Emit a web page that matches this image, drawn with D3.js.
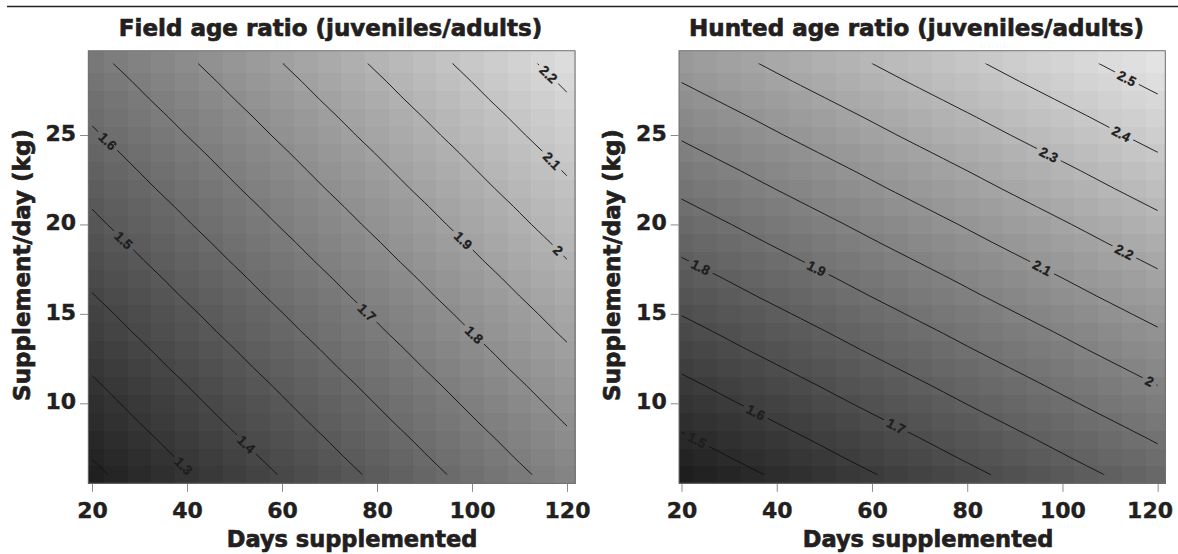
<!DOCTYPE html>
<html><head><meta charset="utf-8">
<script src="https://cdn.jsdelivr.net/npm/d3@7"></script>
<style>
html,body{margin:0;padding:0;background:#fff;}
svg{display:block;}
</style></head>
<body><svg id="chart" width="1178" height="554"></svg>
<script>
// ---------- data ----------
const days = [20,25,30,35,40,45,50,55,60,65,70,75,80,85,90,95,100,105,110,115,120];
const kg = [6,7,8,9,10,11,12,13,14,15,16,17,18,19,20,21,22,23,24,25,26,27,28,29];

// rows: kg = 6 ... 29 ; columns: days = 20 ... 120
const fieldRatio = [
[1.181,1.209,1.237,1.265,1.293,1.321,1.349,1.377,1.405,1.433,1.461,1.489,1.517,1.545,1.573,1.601,1.629,1.657,1.685,1.713,1.741],
[1.203,1.231,1.259,1.287,1.315,1.343,1.371,1.399,1.427,1.455,1.483,1.511,1.539,1.567,1.595,1.623,1.651,1.679,1.707,1.735,1.763],
[1.224,1.252,1.280,1.308,1.336,1.364,1.392,1.420,1.448,1.476,1.504,1.532,1.560,1.588,1.616,1.644,1.672,1.700,1.728,1.756,1.784],
[1.246,1.274,1.302,1.330,1.358,1.386,1.414,1.442,1.470,1.498,1.526,1.554,1.582,1.610,1.638,1.666,1.694,1.722,1.750,1.778,1.806],
[1.267,1.295,1.323,1.351,1.379,1.407,1.435,1.463,1.491,1.519,1.547,1.575,1.603,1.631,1.659,1.687,1.715,1.743,1.771,1.799,1.827],
[1.288,1.316,1.344,1.372,1.400,1.428,1.456,1.484,1.512,1.540,1.568,1.596,1.624,1.652,1.680,1.708,1.736,1.764,1.792,1.820,1.848],
[1.310,1.338,1.366,1.394,1.422,1.450,1.478,1.506,1.534,1.562,1.590,1.618,1.646,1.674,1.702,1.730,1.758,1.786,1.814,1.842,1.870],
[1.331,1.359,1.387,1.415,1.443,1.471,1.499,1.527,1.555,1.583,1.611,1.639,1.667,1.695,1.723,1.751,1.779,1.807,1.835,1.863,1.891],
[1.353,1.381,1.409,1.437,1.465,1.493,1.521,1.549,1.577,1.605,1.633,1.661,1.689,1.717,1.745,1.773,1.801,1.829,1.857,1.885,1.913],
[1.374,1.402,1.430,1.458,1.486,1.514,1.542,1.570,1.598,1.626,1.654,1.682,1.710,1.738,1.766,1.794,1.822,1.850,1.878,1.906,1.934],
[1.396,1.424,1.452,1.480,1.508,1.536,1.564,1.592,1.620,1.648,1.676,1.704,1.732,1.760,1.788,1.816,1.844,1.872,1.900,1.928,1.956],
[1.417,1.445,1.473,1.501,1.529,1.557,1.585,1.613,1.641,1.669,1.697,1.725,1.753,1.781,1.809,1.837,1.865,1.893,1.921,1.949,1.977],
[1.439,1.467,1.495,1.523,1.551,1.579,1.607,1.635,1.663,1.691,1.719,1.747,1.775,1.803,1.831,1.859,1.887,1.915,1.943,1.971,1.999],
[1.460,1.488,1.516,1.544,1.572,1.600,1.628,1.656,1.684,1.712,1.740,1.768,1.796,1.824,1.852,1.880,1.908,1.936,1.964,1.992,2.020],
[1.482,1.510,1.538,1.566,1.594,1.622,1.650,1.678,1.706,1.734,1.762,1.790,1.818,1.846,1.874,1.902,1.930,1.958,1.986,2.014,2.042],
[1.503,1.531,1.559,1.587,1.615,1.643,1.671,1.699,1.727,1.755,1.783,1.811,1.839,1.867,1.895,1.923,1.951,1.979,2.007,2.035,2.063],
[1.525,1.553,1.581,1.609,1.637,1.665,1.693,1.721,1.749,1.777,1.805,1.833,1.861,1.889,1.917,1.945,1.973,2.001,2.029,2.057,2.085],
[1.546,1.574,1.602,1.630,1.658,1.686,1.714,1.742,1.770,1.798,1.826,1.854,1.882,1.910,1.938,1.966,1.994,2.022,2.050,2.078,2.106],
[1.567,1.595,1.623,1.651,1.679,1.707,1.735,1.763,1.791,1.819,1.847,1.875,1.903,1.931,1.959,1.987,2.015,2.043,2.071,2.099,2.127],
[1.589,1.617,1.645,1.673,1.701,1.729,1.757,1.785,1.813,1.841,1.869,1.897,1.925,1.953,1.981,2.009,2.037,2.065,2.093,2.121,2.149],
[1.610,1.638,1.666,1.694,1.722,1.750,1.778,1.806,1.834,1.862,1.890,1.918,1.946,1.974,2.002,2.030,2.058,2.086,2.114,2.142,2.170],
[1.632,1.660,1.688,1.716,1.744,1.772,1.800,1.828,1.856,1.884,1.912,1.940,1.968,1.996,2.024,2.052,2.080,2.108,2.136,2.164,2.192],
[1.653,1.681,1.709,1.737,1.765,1.793,1.821,1.849,1.877,1.905,1.933,1.961,1.989,2.017,2.045,2.073,2.101,2.129,2.157,2.185,2.213],
[1.675,1.703,1.731,1.759,1.787,1.815,1.843,1.871,1.899,1.927,1.955,1.983,2.011,2.039,2.067,2.095,2.123,2.151,2.179,2.207,2.235]
];

const huntedRatio = [
[1.427,1.448,1.469,1.490,1.511,1.532,1.553,1.574,1.595,1.616,1.637,1.658,1.679,1.700,1.721,1.742,1.763,1.784,1.805,1.826,1.847],
[1.458,1.479,1.500,1.521,1.542,1.563,1.584,1.605,1.626,1.647,1.668,1.689,1.710,1.731,1.752,1.773,1.794,1.815,1.836,1.857,1.878],
[1.488,1.509,1.530,1.551,1.572,1.593,1.614,1.635,1.656,1.677,1.698,1.719,1.740,1.761,1.782,1.803,1.824,1.845,1.866,1.887,1.908],
[1.519,1.540,1.561,1.582,1.603,1.624,1.645,1.666,1.687,1.708,1.729,1.750,1.771,1.792,1.813,1.834,1.855,1.876,1.897,1.918,1.939],
[1.550,1.571,1.592,1.613,1.634,1.655,1.676,1.697,1.718,1.739,1.760,1.781,1.802,1.823,1.844,1.865,1.886,1.907,1.928,1.949,1.970],
[1.580,1.601,1.622,1.643,1.664,1.685,1.706,1.727,1.748,1.769,1.790,1.811,1.832,1.853,1.874,1.895,1.916,1.937,1.958,1.979,2.000],
[1.611,1.632,1.653,1.674,1.695,1.716,1.737,1.758,1.779,1.800,1.821,1.842,1.863,1.884,1.905,1.926,1.947,1.968,1.989,2.010,2.031],
[1.642,1.663,1.684,1.705,1.726,1.747,1.768,1.789,1.810,1.831,1.852,1.873,1.894,1.915,1.936,1.957,1.978,1.999,2.020,2.041,2.062],
[1.672,1.693,1.714,1.735,1.756,1.777,1.798,1.819,1.840,1.861,1.882,1.903,1.924,1.945,1.966,1.987,2.008,2.029,2.050,2.071,2.092],
[1.703,1.724,1.745,1.766,1.787,1.808,1.829,1.850,1.871,1.892,1.913,1.934,1.955,1.976,1.997,2.018,2.039,2.060,2.081,2.102,2.123],
[1.734,1.755,1.776,1.797,1.818,1.839,1.860,1.881,1.902,1.923,1.944,1.965,1.986,2.007,2.028,2.049,2.070,2.091,2.112,2.133,2.154],
[1.764,1.785,1.806,1.827,1.848,1.869,1.890,1.911,1.932,1.953,1.974,1.995,2.016,2.037,2.058,2.079,2.100,2.121,2.142,2.163,2.184],
[1.795,1.816,1.837,1.858,1.879,1.900,1.921,1.942,1.963,1.984,2.005,2.026,2.047,2.068,2.089,2.110,2.131,2.152,2.173,2.194,2.215],
[1.826,1.847,1.868,1.889,1.910,1.931,1.952,1.973,1.994,2.015,2.036,2.057,2.078,2.099,2.120,2.141,2.162,2.183,2.204,2.225,2.246],
[1.856,1.877,1.898,1.919,1.940,1.961,1.982,2.003,2.024,2.045,2.066,2.087,2.108,2.129,2.150,2.171,2.192,2.213,2.234,2.255,2.276],
[1.887,1.908,1.929,1.950,1.971,1.992,2.013,2.034,2.055,2.076,2.097,2.118,2.139,2.160,2.181,2.202,2.223,2.244,2.265,2.286,2.307],
[1.918,1.939,1.960,1.981,2.002,2.023,2.044,2.065,2.086,2.107,2.128,2.149,2.170,2.191,2.212,2.233,2.254,2.275,2.296,2.317,2.338],
[1.948,1.969,1.990,2.011,2.032,2.053,2.074,2.095,2.116,2.137,2.158,2.179,2.200,2.221,2.242,2.263,2.284,2.305,2.326,2.347,2.368],
[1.979,2.000,2.021,2.042,2.063,2.084,2.105,2.126,2.147,2.168,2.189,2.210,2.231,2.252,2.273,2.294,2.315,2.336,2.357,2.378,2.399],
[2.010,2.031,2.052,2.073,2.094,2.115,2.136,2.157,2.178,2.199,2.220,2.241,2.262,2.283,2.304,2.325,2.346,2.367,2.388,2.409,2.430],
[2.040,2.061,2.082,2.103,2.124,2.145,2.166,2.187,2.208,2.229,2.250,2.271,2.292,2.313,2.334,2.355,2.376,2.397,2.418,2.439,2.460],
[2.071,2.092,2.113,2.134,2.155,2.176,2.197,2.218,2.239,2.260,2.281,2.302,2.323,2.344,2.365,2.386,2.407,2.428,2.449,2.470,2.491],
[2.102,2.123,2.144,2.165,2.186,2.207,2.228,2.249,2.270,2.291,2.312,2.333,2.354,2.375,2.396,2.417,2.438,2.459,2.480,2.501,2.522],
[2.132,2.153,2.174,2.195,2.216,2.237,2.258,2.279,2.300,2.321,2.342,2.363,2.384,2.405,2.426,2.447,2.468,2.489,2.510,2.531,2.552]
];

const fieldLevels = [1.2,1.3,1.4,1.5,1.6,1.7,1.8,1.9,2,2.1,2.2];
const huntedLevels = [1.5,1.6,1.7,1.8,1.9,2,2.1,2.2,2.3,2.4,2.5];
// contour label anchors: [level, days, kg]
const fieldLabelAt = [[1.3,38.9,6.4],[1.4,52.8,7.8],[1.5,26.6,19.1],[1.6,23.1,24.6],[1.7,74,14],
  [1.8,96,12.6],[1.9,98.1,19.1],[2,117.9,18.5],[2.1,117,23.6],[2.2,115.4,28.2]];
const huntedLabelAt = [[1.5,23.3,7.95],[1.6,35.4,9.4],[1.7,64.8,8.6],[1.8,23.9,17.55],[1.9,48.4,17.55],
  [2,118.4,11.3],[2.1,95.7,17.56],[2.2,112.5,18.2],[2.3,97.4,24.05],[2.4,112.4,25.1],[2.5,112.4,27.6]];
const xTicks = [20,40,60,80,100,120];
const yTicks = [10,15,20,25];
const panelTitles = ["Field age ratio (juveniles/adults)", "Hunted age ratio (juveniles/adults)"];
const xTitle = "Days supplemented";
const yTitle = "Supplement/day (kg)";

// ---------- layout ----------
const FONT = "DejaVu Sans";
const INK = "#231f20";
const panels = [
  {title: panelTitles[0], grid: fieldRatio, levels: fieldLevels, labels: fieldLabelAt,
   left: 88.3, right: 575, xr: [92, 567], gray: ["#202020", "#dcdcdc"], titleX: 330.5, xTitleX: 352, yTitleX: 30},
  {title: panelTitles[1], grid: huntedRatio, levels: huntedLevels, labels: huntedLabelAt,
   left: 679, right: 1165.3, xr: [681.5, 1157.7], gray: ["#1e1e1e", "#e3e3e3"], titleX: 916.5, xTitleX: 928, yTitleX: 620}
];
const TOP = 50.7, BOTTOM = 483.3;

const svg = d3.select("#chart");
svg.append("line").attr("x1", 7).attr("x2", 1178).attr("y1", 6.5).attr("y2", 6.5)
  .attr("stroke", "#222").attr("stroke-width", 1.6);

const defs = svg.append("defs");
const nx = days.length, ny = kg.length;

panels.forEach((p, pi) => {
  const xS = d3.scaleLinear().domain([20, 120]).range(p.xr);
  const yS = d3.scaleLinear().domain([10, 25]).range([403.3, 135]);
  const flat = p.grid.flat();
  const color = d3.scaleLinear().domain(d3.extent(flat)).range(p.gray);

  // heatmap cells
  const xb = i => i <= 0 ? p.left : i >= nx ? p.right : xS((days[i - 1] + days[i]) / 2);
  const yb = j => j <= 0 ? BOTTOM : j >= ny ? TOP : yS((kg[j - 1] + kg[j]) / 2);
  const cells = [];
  p.grid.forEach((row, j) => row.forEach((v, i) => cells.push({i, j, v})));
  svg.append("g").attr("shape-rendering", "crispEdges")
    .selectAll("rect").data(cells).join("rect")
    .attr("x", d => xb(d.i)).attr("width", d => xb(d.i + 1) - xb(d.i) + 0.5)
    .attr("y", d => yb(d.j + 1)).attr("height", d => yb(d.j) - yb(d.j + 1) + 0.5)
    .attr("fill", d => color(d.v));

  // contours
  const contours = d3.contours().size([nx, ny]).thresholds(p.levels)(flat);
  const ix = d3.scaleLinear().domain([0, nx - 1]).range([days[0], days[nx - 1]]);
  const iy = d3.scaleLinear().domain([0, ny - 1]).range([kg[0], kg[ny - 1]]);
  const toPx = (gx, gy) => [xS(ix(gx - 0.5)), yS(iy(gy - 0.5))];
  const proj = d3.geoTransform({point(x, y) { const q = toPx(x, y); this.stream.point(q[0], q[1]); }});
  const path = d3.geoPath(proj);

  const clipId = "clip" + pi, maskId = "mask" + pi;
  defs.append("clipPath").attr("id", clipId).append("rect")
    .attr("x", xS(days[0])).attr("width", xS(days[nx - 1]) - xS(days[0]))
    .attr("y", yS(kg[ny - 1])).attr("height", yS(kg[0]) - yS(kg[ny - 1]));
  const mask = defs.append("mask").attr("id", maskId).attr("maskUnits", "userSpaceOnUse")
    .attr("x", 0).attr("y", 0).attr("width", 1178).attr("height", 554);
  mask.append("rect").attr("width", 1178).attr("height", 554).attr("fill", "#fff");

  svg.append("g").attr("clip-path", `url(#${clipId})`)
    .append("g").attr("mask", `url(#${maskId})`)
    .selectAll("path").data(contours).join("path")
    .attr("d", path).attr("fill", "none").attr("stroke", "#111").attr("stroke-width", 0.9);

  // contour labels
  const labelG = svg.append("g");
  const eps = 1e-6;
  const inside = d => d[0] >= days[0] - eps && d[0] <= days[nx - 1] + eps && d[1] >= kg[0] - eps && d[1] <= kg[ny - 1] + eps;
  p.labels.forEach(([lv, ax, ay]) => {
    const c = contours.find(cc => Math.abs(cc.value - lv) < 1e-9);
    if (!c) return;
    const A = [xS(ax), yS(ay)];
    let best = null;
    c.coordinates.forEach(poly => poly.forEach(ring => {
      for (let k = 1; k < ring.length; k++) {
        const a = ring[k - 1], b = ring[k];
        if (!inside([ix(a[0] - 0.5), iy(a[1] - 0.5)]) || !inside([ix(b[0] - 0.5), iy(b[1] - 0.5)])) continue;
        const P = toPx(a[0], a[1]), Q = toPx(b[0], b[1]);
        const vx = Q[0] - P[0], vy = Q[1] - P[1];
        const L2 = vx * vx + vy * vy;
        if (L2 < 1e-9) continue;
        let t = ((A[0] - P[0]) * vx + (A[1] - P[1]) * vy) / L2;
        t = Math.max(0, Math.min(1, t));
        const X = P[0] + t * vx, Y = P[1] + t * vy;
        const dist = Math.hypot(A[0] - X, A[1] - Y);
        if (!best || dist < best.dist) best = {dist, X, Y, ang: Math.atan2(vy, vx) * 180 / Math.PI};
      }
    }));
    if (!best) return;
    let ang = best.ang;
    if (ang > 90) ang -= 180;
    if (ang < -90) ang += 180;
    const t = labelG.append("text")
      .attr("transform", `translate(${best.X},${best.Y}) rotate(${ang})`)
      .attr("text-anchor", "middle").attr("dy", "0.36em")
      .attr("font-family", "Liberation Sans").attr("font-weight", "bold")
      .attr("font-size", 13.5).attr("fill", "#1e1e1e")
      .attr("stroke", "#1e1e1e").attr("stroke-width", 0.35)
      .text(String(lv));
    const w = t.node().getComputedTextLength();
    mask.append("rect")
      .attr("transform", `translate(${best.X},${best.Y}) rotate(${ang})`)
      .attr("x", -w / 2 - 4).attr("width", w + 8).attr("y", -6).attr("height", 12)
      .attr("fill", "#000");
  });

  // frame
  svg.append("rect").attr("x", p.left).attr("y", TOP).attr("width", p.right - p.left)
    .attr("height", BOTTOM - TOP).attr("fill", "none").attr("stroke", "#707070").attr("stroke-width", 1);

  // axes
  const gxA = svg.append("g").attr("transform", `translate(0,${BOTTOM + 0.5})`)
    .call(d3.axisBottom(xS).tickValues(xTicks).tickSize(8).tickPadding(11).tickFormat(d3.format("d")));
  gxA.select(".domain").remove();
  gxA.selectAll(".tick line").attr("stroke", "#8a8a8a");
  gxA.selectAll("text").attr("font-family", FONT).attr("font-weight", "bold")
    .attr("font-size", 22).attr("fill", INK).attr("stroke", INK).attr("stroke-width", 0.4);
  // keep tick labels inside the page (the last one shifts left, as in the reference)
  gxA.selectAll(".tick").each(function() {
    const tk = d3.select(this);
    const txt = tk.select("text");
    const bb = this.getBBox();
    const m = this.getCTM();
    const rightEdge = m.e + bb.x + bb.width;
    if (rightEdge > 1173) txt.attr("x", 1173 - rightEdge);
  });

  const gyA = svg.append("g").attr("transform", `translate(${p.left - 0.3},0)`)
    .call(d3.axisLeft(yS).tickValues(yTicks).tickSize(8).tickPadding(4).tickFormat(d3.format("d")));
  gyA.select(".domain").remove();
  gyA.selectAll(".tick line").attr("stroke", "#8a8a8a");
  gyA.selectAll("text").attr("font-family", FONT).attr("font-weight", "bold")
    .attr("font-size", 22).attr("fill", INK).attr("stroke", INK).attr("stroke-width", 0.4).attr("dy", "0.24em");

  // titles
  svg.append("text").attr("x", p.titleX).attr("y", 36).attr("text-anchor", "middle")
    .attr("font-family", FONT).attr("font-weight", "bold").attr("font-size", 23)
    .attr("fill", INK).attr("stroke", INK).attr("stroke-width", 0.7).text(p.title);
  svg.append("text").attr("x", p.xTitleX).attr("y", 547).attr("text-anchor", "middle")
    .attr("font-family", FONT).attr("font-weight", "bold").attr("font-size", 22.5)
    .attr("fill", INK).attr("stroke", INK).attr("stroke-width", 0.7).text(xTitle);
  svg.append("text").attr("transform", `translate(${p.yTitleX},${(TOP + BOTTOM) / 2 - 2}) rotate(-90)`)
    .attr("text-anchor", "middle")
    .attr("font-family", FONT).attr("font-weight", "bold").attr("font-size", 23)
    .attr("fill", INK).attr("stroke", INK).attr("stroke-width", 0.7).text(yTitle);
});
</script>
</body></html>
